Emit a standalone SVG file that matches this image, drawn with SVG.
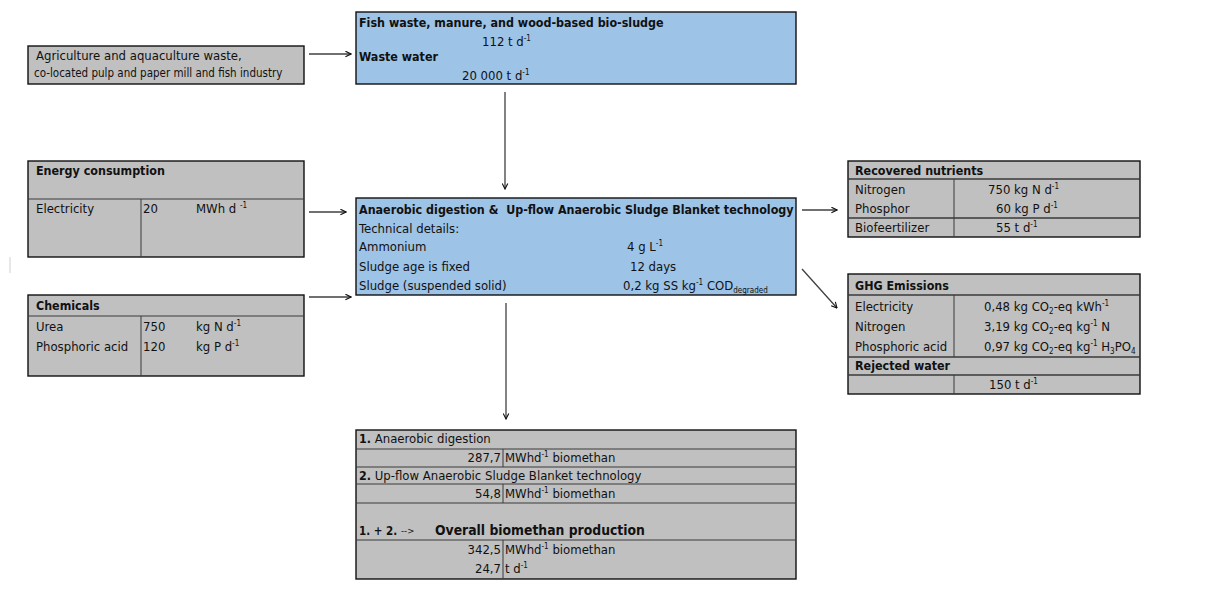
<svg xmlns="http://www.w3.org/2000/svg" width="1209" height="590" viewBox="0 0 1209 590">
  <style>
    text { font-family: "DejaVu Sans Condensed", "DejaVu Sans", sans-serif; font-size: 13px; fill: #111; }
    .b { font-weight: bold; font-size: 12.4px; }
    .sm { font-size: 11.5px; }
    .big { font-size: 13.8px; font-weight: bold; }
    .grey { fill: #c0c0c0; stroke: #111; stroke-width: 1.4; }
    .blue { fill: #9dc3e6; stroke: #111; stroke-width: 1.4; }
    .in { stroke: #3a3a3a; stroke-width: 1; fill: none; }
    .hd { stroke: #3a3a3a; stroke-width: 1.4; fill: none; }
    .conn line { stroke: #404040; stroke-width: 1.3; marker-end: url(#arr); }
  </style>
  <defs>
    <marker id="arr" viewBox="0 0 10 10" refX="9" refY="5" markerWidth="7" markerHeight="7" markerUnits="userSpaceOnUse" orient="auto">
      <path d="M1,1 L9,5 L1,9" fill="none" stroke="#111" stroke-width="1.6"/>
    </marker>
  </defs>
  <rect width="1209" height="590" fill="#fff"/>

  <!-- faint stray tick on the left margin -->
  <line x1="10" y1="257" x2="10" y2="273" stroke="#d0d0d0" stroke-width="1"/>

  <!-- Source -->
  <g id="source">
    <rect class="grey" x="28" y="46" width="276" height="38"/>
    <text x="36" y="60">Agriculture and aquaculture waste,</text>
    <text class="sm" x="34" y="77">co-located pulp and paper mill and fish industry</text>
  </g>

  <!-- Feedstock -->
  <g id="feedstock">
    <rect class="blue" x="356" y="12" width="440" height="72"/>
    <text class="b" x="359" y="27">Fish waste, manure, and wood-based bio-sludge</text>
    <text x="482" y="46">112 t d<tspan dy="-5" font-size="8">-1</tspan></text>
    <text class="b" x="359" y="61">Waste water</text>
    <text x="462" y="80">20 000 t d<tspan dy="-5" font-size="8">-1</tspan></text>
  </g>

  <!-- Energy consumption -->
  <g id="energy">
    <rect class="grey" x="28" y="161" width="276" height="96"/>
    <line class="in" x1="28" y1="199" x2="304" y2="199"/>
    <line class="in" x1="141" y1="199" x2="141" y2="257"/>
    <text class="b" x="36" y="175">Energy consumption</text>
    <text x="36" y="213">Electricity</text>
    <text x="143" y="213">20</text>
    <text x="196" y="213">MWh d <tspan dy="-5" font-size="8">-1</tspan></text>
  </g>

  <!-- Chemicals -->
  <g id="chemicals">
    <rect class="grey" x="28" y="295" width="276" height="81"/>
    <line class="in" x1="28" y1="316" x2="304" y2="316"/>
    <line class="in" x1="141" y1="316" x2="141" y2="376"/>
    <text class="b" x="36" y="310">Chemicals</text>
    <text x="36" y="331">Urea</text>
    <text x="143" y="331">750</text>
    <text x="196" y="331">kg N d<tspan dy="-5" font-size="8">-1</tspan></text>
    <text x="36" y="351">Phosphoric acid</text>
    <text x="143" y="351">120</text>
    <text x="196" y="351">kg P d<tspan dy="-5" font-size="8">-1</tspan></text>
  </g>

  <!-- Digestion process -->
  <g id="digestion">
    <rect class="blue" x="356" y="198" width="440" height="97"/>
    <text class="b" x="359" y="214">Anaerobic digestion &amp;&#160; Up-flow Anaerobic Sludge Blanket technology</text>
    <text x="359" y="233">Technical details:</text>
    <text x="359" y="251">Ammonium</text>
    <text x="627" y="251">4 g L<tspan dy="-5" font-size="8">-1</tspan></text>
    <text x="359" y="271">Sludge age is fixed</text>
    <text x="630" y="271">12 days</text>
    <text x="359" y="290">Sludge (suspended solid)</text>
    <text x="623" y="290">0,2 kg SS kg<tspan dy="-5" font-size="8">-1</tspan><tspan dy="5"> COD</tspan><tspan dy="3" font-size="8">degraded</tspan></text>
  </g>

  <!-- Recovered nutrients -->
  <g id="nutrients">
    <rect class="grey" x="848" y="161" width="292" height="76"/>
    <line class="hd" x1="848" y1="179" x2="1140" y2="179"/>
    <line class="hd" x1="848" y1="218" x2="1140" y2="218"/>
    <line class="in" x1="954" y1="179" x2="954" y2="237"/>
    <text class="b" x="855" y="175">Recovered nutrients</text>
    <text x="855" y="194">Nitrogen</text>
    <text x="988" y="194">750 kg N d<tspan dy="-5" font-size="8">-1</tspan></text>
    <text x="855" y="213">Phosphor</text>
    <text x="996" y="213">60 kg P d<tspan dy="-5" font-size="8">-1</tspan></text>
    <text x="855" y="232">Biofeertilizer</text>
    <text x="996" y="232">55 t d<tspan dy="-5" font-size="8">-1</tspan></text>
  </g>

  <!-- GHG emissions and rejected water -->
  <g id="emissions">
    <rect class="grey" x="848" y="274" width="292" height="120"/>
    <line class="hd" x1="848" y1="295" x2="1140" y2="295"/>
    <line class="hd" x1="848" y1="357" x2="1140" y2="357"/>
    <line class="hd" x1="848" y1="375" x2="1140" y2="375"/>
    <line class="in" x1="954" y1="295" x2="954" y2="357"/>
    <line class="in" x1="954" y1="375" x2="954" y2="394"/>
    <text class="b" x="855" y="290">GHG Emissions</text>
    <text x="855" y="311">Electricity</text>
    <text x="984" y="311">0,48 kg CO<tspan dy="3" font-size="8">2</tspan><tspan dy="-3">-eq kWh</tspan><tspan dy="-5" font-size="8">-1</tspan></text>
    <text x="855" y="331">Nitrogen</text>
    <text x="984" y="331">3,19 kg CO<tspan dy="3" font-size="8">2</tspan><tspan dy="-3">-eq kg</tspan><tspan dy="-5" font-size="8">-1</tspan><tspan dy="5"> N</tspan></text>
    <text x="855" y="351">Phosphoric acid</text>
    <text x="984" y="351">0,97 kg CO<tspan dy="3" font-size="8">2</tspan><tspan dy="-3">-eq kg</tspan><tspan dy="-5" font-size="8">-1</tspan><tspan dy="5"> H</tspan><tspan dy="3" font-size="8">3</tspan><tspan dy="-3">PO</tspan><tspan dy="3" font-size="8">4</tspan></text>
    <text class="b" x="855" y="370">Rejected water</text>
    <text x="989" y="389">150 t d<tspan dy="-5" font-size="8">-1</tspan></text>
  </g>

  <!-- Biomethane output -->
  <g id="output">
    <rect class="grey" x="356" y="430" width="440" height="149"/>
    <line class="in" x1="356" y1="449" x2="796" y2="449"/>
    <line class="in" x1="356" y1="467" x2="796" y2="467"/>
    <line class="in" x1="356" y1="484" x2="796" y2="484"/>
    <line class="in" x1="356" y1="503" x2="796" y2="503"/>
    <line class="in" x1="356" y1="540" x2="796" y2="540"/>
    <line class="in" x1="503" y1="449" x2="503" y2="467"/>
    <line class="in" x1="503" y1="484" x2="503" y2="503"/>
    <line class="in" x1="503" y1="540" x2="503" y2="579"/>
    <text x="359" y="443"><tspan class="b">1.</tspan> Anaerobic digestion</text>
    <text x="501" y="462" text-anchor="end">287,7</text>
    <text x="505" y="462">MWhd<tspan dy="-5" font-size="8">-1</tspan><tspan dy="5"> biomethan</tspan></text>
    <text x="359" y="480"><tspan class="b">2.</tspan> Up-flow Anaerobic Sludge Blanket technology</text>
    <text x="501" y="498" text-anchor="end">54,8</text>
    <text x="505" y="498">MWhd<tspan dy="-5" font-size="8">-1</tspan><tspan dy="5"> biomethan</tspan></text>
    <text class="b" x="359" y="535" style="font-size:11.5px">1. + 2.</text>
    <text x="401" y="534" style="font-size:9.5px">--&gt;</text>
    <text class="big" x="435" y="535">Overall biomethan production</text>
    <text x="501" y="554" text-anchor="end">342,5</text>
    <text x="505" y="554">MWhd<tspan dy="-5" font-size="8">-1</tspan><tspan dy="5"> biomethan</tspan></text>
    <text x="501" y="573" text-anchor="end">24,7</text>
    <text x="505" y="573">t d<tspan dy="-5" font-size="8">-1</tspan></text>
  </g>

  <!-- Connectors -->
  <g id="connectors" class="conn">
    <line x1="309" y1="54" x2="351" y2="54"/>
    <line x1="505" y1="92" x2="505" y2="189"/>
    <line x1="309" y1="212" x2="346" y2="212"/>
    <line x1="309" y1="297" x2="351" y2="297"/>
    <line x1="802" y1="210" x2="837" y2="210"/>
    <line x1="802" y1="269" x2="837" y2="308"/>
    <line x1="506" y1="303" x2="506" y2="419"/>
  </g>
</svg>
